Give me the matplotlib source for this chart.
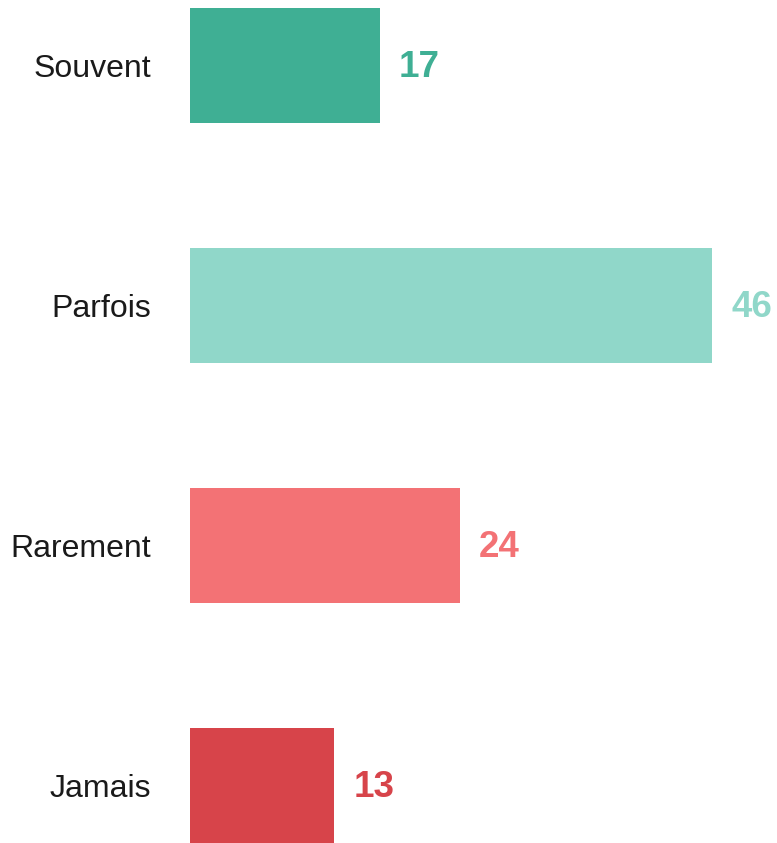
import matplotlib
matplotlib.use("Agg")
import matplotlib.pyplot as plt

categories = ["Souvent", "Parfois", "Rarement", "Jamais"]
values = [17, 46, 24, 13]
colors = ["#3FAF94", "#90D7C9", "#F37275", "#D7444A"]

plt.rcParams['font.family'] = ['Liberation Sans', 'DejaVu Sans']

W, H = 777, 843
fig = plt.figure(figsize=(W / 100, H / 100), dpi=100)
left = 190
ax = fig.add_axes([left / W, 0, (W - left) / W, 1])

px_per_unit = 11.45
x_start = 0.4  # bars start slightly clipped at the left edge
step = 240
y = list(range(len(categories)))
ax.barh(y, values, height=115 / step, color=colors)
ax.set_xlim(x_start, x_start + (W - left) / px_per_unit)
ax.set_ylim((H - 65.5) / step, -65.5 / step)

for yi, v, c in zip(y, values, colors):
    ax.annotate(str(v), (v, yi), xytext=(19, -2), textcoords="offset pixels",
                ha="left", va="center", fontsize=26.5, fontweight="bold", color=c)

ax.set_yticks(y)
ax.set_yticklabels(categories, fontsize=23, color="#1a1a1a")
ax.tick_params(axis="y", length=0, pad=28)
ax.set_xticks([])
for s in ax.spines.values():
    s.set_visible(False)

fig.savefig("out.png", dpi=100)
